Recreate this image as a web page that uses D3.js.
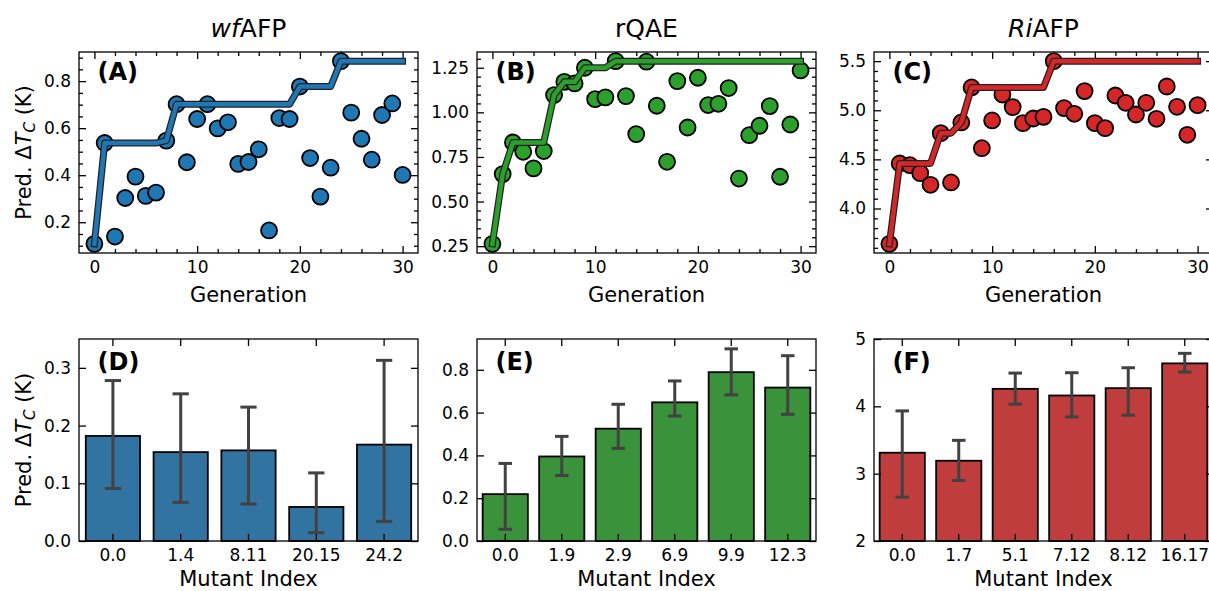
<!DOCTYPE html>
<meta charset="utf-8">
<style>
body{ margin:0; background:#fff; }
svg text{ font-family:"DejaVu Sans", sans-serif; }
</style>
<body>
<script src="https://d3js.org/d3.v7.min.js"></script>
<script>

var width = 1209,
    height = 591;

// generations 0..30 (top row)
var generations = d3.range(31);

// predicted dT_C per generation
var wfValues = [0.108,0.537,0.139,0.303,0.394,0.312,0.326,0.547,0.702,0.455,0.639,0.702,0.599,0.625,0.448,0.456,0.510,0.165,0.643,0.639,0.777,0.473,0.309,0.432,0.885,0.666,0.555,0.466,0.656,0.705,0.401];
var wfBest   = [0.108,0.537,0.537,0.537,0.537,0.537,0.537,0.547,0.702,0.702,0.702,0.702,0.702,0.702,0.702,0.702,0.702,0.702,0.702,0.702,0.777,0.777,0.777,0.777,0.885,0.885,0.885,0.885,0.885,0.885,0.885];

var rqValues = [0.263,0.654,0.831,0.779,0.686,0.783,1.097,1.171,1.162,1.250,1.074,1.084,1.287,1.091,0.878,1.284,1.037,0.723,1.175,0.915,1.194,1.041,1.048,1.136,0.629,0.872,0.925,1.035,0.639,0.932,1.235];
var rqBest   = [0.263,0.654,0.831,0.831,0.831,0.831,1.097,1.171,1.171,1.250,1.250,1.250,1.287,1.287,1.287,1.287,1.287,1.287,1.287,1.287,1.287,1.287,1.287,1.287,1.287,1.287,1.287,1.287,1.287,1.287,1.287];

var riValues = [3.640,4.458,4.441,4.360,4.241,4.767,4.265,4.876,5.232,4.614,4.896,5.160,5.032,4.869,4.916,4.933,5.500,5.022,4.964,5.195,4.869,4.818,5.150,5.076,4.957,5.076,4.913,5.242,5.035,4.750,5.052];
var riBest   = [3.640,4.458,4.458,4.458,4.458,4.767,4.767,4.876,5.232,5.232,5.232,5.232,5.232,5.232,5.232,5.232,5.500,5.500,5.500,5.500,5.500,5.500,5.500,5.500,5.500,5.500,5.500,5.500,5.500,5.500,5.500];

// bottom row: mutants, mean and error bar ends
var wfMutants = ["0.0","1.4","8.11","20.15","24.2"];
var wfMean = [0.182,0.154,0.157,0.059,0.167];
var wfLow  = [0.091,0.067,0.064,0.0145,0.034];
var wfHigh = [0.278,0.255,0.232,0.118,0.313];

var rqMutants = ["0.0","1.9","2.9","6.9","9.9","12.3"];
var rqMean = [0.219,0.395,0.525,0.648,0.789,0.717];
var rqLow  = [0.055,0.306,0.433,0.584,0.683,0.592];
var rqHigh = [0.3625,0.489,0.639,0.748,0.898,0.866];

var riMutants = ["0.0","1.7","5.1","7.12","8.12","16.17"];
var riMean = [3.311,3.192,4.260,4.161,4.270,4.638];
var riLow  = [2.651,2.899,4.032,3.843,3.868,4.509];
var riHigh = [3.932,3.495,4.494,4.499,4.573,4.787];

var svg = d3.select("body").append("svg")
    .attr("width", width)
    .attr("height", height);

var colLeft = [79, 477, 874],
    panelW = 339;
var topY = 52, topH = 201,
    botY = 339, botH = 202;

function styleAxis(g, size) {
  g.attr("font-size", size || 17)
   .attr("font-family", "DejaVu Sans")
   .call(a => a.select(".domain").remove());
  g.selectAll(".tick line").attr("stroke", "#000").attr("stroke-width", 1.3);
  g.selectAll(".tick text").attr("fill", "#000");
}

function yLabel(g, h) {
  var t = g.append("text")
      .attr("transform", "translate(" + (30.5 - g.datum().x0) + "," + (h / 2) + ") rotate(-90)")
      .attr("text-anchor", "middle")
      .attr("font-size", 21);
  t.append("tspan").text("Pred. Δ");
  t.append("tspan").attr("font-style", "italic").text("T");
  t.append("tspan").attr("font-style", "italic").attr("font-size", 15).attr("dy", 4).text("C");
  t.append("tspan").attr("dy", -4).text(" (K)");
}

function tag(g, s, dy) {
  g.append("text")
      .attr("x", 18.5)
      .attr("y", dy)
      .attr("font-size", 24)
      .attr("font-weight", "bold")
      .text(s);
}

function scatterPanel(col, values, best, color, yMajor, yFmt, yMinorStep, label, title) {
  var x0 = colLeft[col], w = panelW, h = topH;
  var g = svg.append("g").datum({x0: x0}).attr("transform", "translate(" + x0 + "," + topY + ")");

  var ext = d3.extent(values), pad = (ext[1] - ext[0]) * 0.05;
  var y = d3.scaleLinear().domain([ext[0] - pad, ext[1] + pad]).range([h, 0]);
  var x = d3.scaleLinear().domain([-1.5, 31.5]).range([0, w]);

  var xMinor = d3.range(2, 31, 2).filter(v => v % 10 != 0);
  var yMinor = d3.range(Math.ceil(y.domain()[0] / yMinorStep) * yMinorStep, y.domain()[1], yMinorStep)
      .filter(v => !yMajor.some(m => Math.abs(m - v) < 1e-6));

  g.append("g").attr("transform", "translate(0," + h + ")")
      .call(d3.axisBottom(x).tickValues([0, 10, 20, 30]).tickSizeInner(-7).tickSizeOuter(0).tickPadding(8))
      .call(styleAxis);
  g.append("g").attr("transform", "translate(0," + h + ")")
      .call(d3.axisBottom(x).tickValues(xMinor).tickSizeInner(-4).tickSizeOuter(0).tickFormat(""))
      .call(styleAxis);
  g.append("g")
      .call(d3.axisTop(x).tickValues([0, 10, 20, 30]).tickSizeInner(-7).tickSizeOuter(0).tickFormat(""))
      .call(styleAxis);
  g.append("g")
      .call(d3.axisTop(x).tickValues(xMinor).tickSizeInner(-4).tickSizeOuter(0).tickFormat(""))
      .call(styleAxis);
  g.append("g")
      .call(d3.axisLeft(y).tickValues(yMajor).tickFormat(d3.format(yFmt)).tickSizeInner(-7).tickSizeOuter(0).tickPadding(8))
      .call(styleAxis);
  g.append("g")
      .call(d3.axisLeft(y).tickValues(yMinor).tickSizeInner(-4).tickSizeOuter(0).tickFormat(""))
      .call(styleAxis);
  g.append("g").attr("transform", "translate(" + w + ",0)")
      .call(d3.axisRight(y).tickValues(yMajor).tickSizeInner(-7).tickSizeOuter(0).tickFormat(""))
      .call(styleAxis);
  g.append("g").attr("transform", "translate(" + w + ",0)")
      .call(d3.axisRight(y).tickValues(yMinor).tickSizeInner(-4).tickSizeOuter(0).tickFormat(""))
      .call(styleAxis);

  g.selectAll(".dot")
      .data(values)
    .enter().append("circle")
      .attr("class", "dot")
      .attr("cx", (d, i) => x(generations[i]))
      .attr("cy", d => y(d))
      .attr("r", 8)
      .attr("fill", color)
      .attr("stroke", "#000")
      .attr("stroke-width", 1.8);

  var line = d3.line()
      .x((d, i) => x(generations[i]))
      .y(d => y(d));

  g.append("path")
      .attr("d", line(best))
      .attr("fill", "none")
      .attr("stroke", "#222")
      .attr("stroke-width", 7)
      .attr("stroke-linejoin", "round")
      .attr("stroke-linecap", "square");
  g.append("path")
      .attr("d", line(best))
      .attr("fill", "none")
      .attr("stroke", color)
      .attr("stroke-width", 4.5)
      .attr("stroke-linejoin", "round")
      .attr("stroke-linecap", "square");

  g.append("rect")
      .attr("width", w).attr("height", h)
      .attr("fill", "none").attr("stroke", "#000").attr("stroke-width", 1.3);

  tag(g, label, 28);

  var t = g.append("text")
      .attr("x", w / 2).attr("y", 37 - topY)
      .attr("text-anchor", "middle")
      .attr("font-size", 25);
  title.forEach(p => t.append("tspan").attr("font-style", p[1] ? "italic" : "normal").text(p[0]));

  g.append("text")
      .attr("x", w / 2).attr("y", 302 - topY)
      .attr("text-anchor", "middle")
      .attr("font-size", 21)
      .text("Generation");

  if (col == 0) yLabel(g, h);
}

function barPanel(col, mutants, mean, low, high, color, yDomain, yTicks, yFmt, label) {
  var x0 = colLeft[col], w = panelW, h = botH;
  var g = svg.append("g").datum({x0: x0}).attr("transform", "translate(" + x0 + "," + botY + ")");

  var x = d3.scaleBand().domain(mutants).range([0, w]).paddingInner(0.2).paddingOuter(0.1);
  var y = d3.scaleLinear().domain(yDomain).range([h, 0]);

  g.selectAll(".bar")
      .data(mean)
    .enter().append("rect")
      .attr("class", "bar")
      .attr("x", (d, i) => x(mutants[i]))
      .attr("y", d => y(d))
      .attr("width", x.bandwidth())
      .attr("height", d => h - y(d))
      .attr("fill", color)
      .attr("stroke", "#000")
      .attr("stroke-width", 1.8);

  var cap = x.bandwidth() * 0.3;
  var err = g.selectAll(".err")
      .data(mean)
    .enter().append("g")
      .attr("class", "err")
      .attr("transform", (d, i) => "translate(" + (x(mutants[i]) + x.bandwidth() / 2) + ",0)")
      .attr("stroke", "#424242")
      .attr("stroke-width", 3);
  err.append("line").attr("y1", (d, i) => y(low[i])).attr("y2", (d, i) => y(high[i]));
  err.append("line").attr("x1", -cap / 2).attr("x2", cap / 2).attr("y1", (d, i) => y(low[i])).attr("y2", (d, i) => y(low[i]));
  err.append("line").attr("x1", -cap / 2).attr("x2", cap / 2).attr("y1", (d, i) => y(high[i])).attr("y2", (d, i) => y(high[i]));

  g.append("g").attr("transform", "translate(0," + h + ")")
      .call(d3.axisBottom(x).tickSizeInner(-7).tickSizeOuter(0).tickPadding(8))
      .call(styleAxis);
  g.append("g")
      .call(d3.axisTop(x).tickSizeInner(-7).tickSizeOuter(0).tickFormat(""))
      .call(styleAxis);
  g.append("g")
      .call(d3.axisLeft(y).tickValues(yTicks).tickFormat(d3.format(yFmt)).tickSizeInner(-7).tickSizeOuter(0).tickPadding(8))
      .call(styleAxis);
  g.append("g").attr("transform", "translate(" + w + ",0)")
      .call(d3.axisRight(y).tickValues(yTicks).tickSizeInner(-7).tickSizeOuter(0).tickFormat(""))
      .call(styleAxis);

  g.append("rect")
      .attr("width", w).attr("height", h)
      .attr("fill", "none").attr("stroke", "#000").attr("stroke-width", 1.3);

  tag(g, label, 31);

  g.append("text")
      .attr("x", w / 2).attr("y", 586 - botY)
      .attr("text-anchor", "middle")
      .attr("font-size", 21)
      .text("Mutant Index");

  if (col == 0) yLabel(g, h);
}

scatterPanel(0, wfValues, wfBest, "#1f77b4", [0.2, 0.4, 0.6, 0.8], ".1f", 0.05, "(A)", [["wf", true], ["AFP", false]]);
scatterPanel(1, rqValues, rqBest, "#2ca02c", [0.25, 0.5, 0.75, 1.0, 1.25], ".2f", 0.05, "(B)", [["rQAE", false]]);
scatterPanel(2, riValues, riBest, "#d62728", [4.0, 4.5, 5.0, 5.5], ".1f", 0.1, "(C)", [["Ri", true], ["AFP", false]]);

barPanel(0, wfMutants, wfMean, wfLow, wfHigh, "#3274a1", [0, 0.35], [0, 0.1, 0.2, 0.3], ".1f", "(D)");
barPanel(1, rqMutants, rqMean, rqLow, rqHigh, "#3a923a", [0, 0.944], [0, 0.2, 0.4, 0.6, 0.8], ".1f", "(E)");
barPanel(2, riMutants, riMean, riLow, riHigh, "#c03d3e", [2, 5], [2, 3, 4, 5], "d", "(F)");
</script>
